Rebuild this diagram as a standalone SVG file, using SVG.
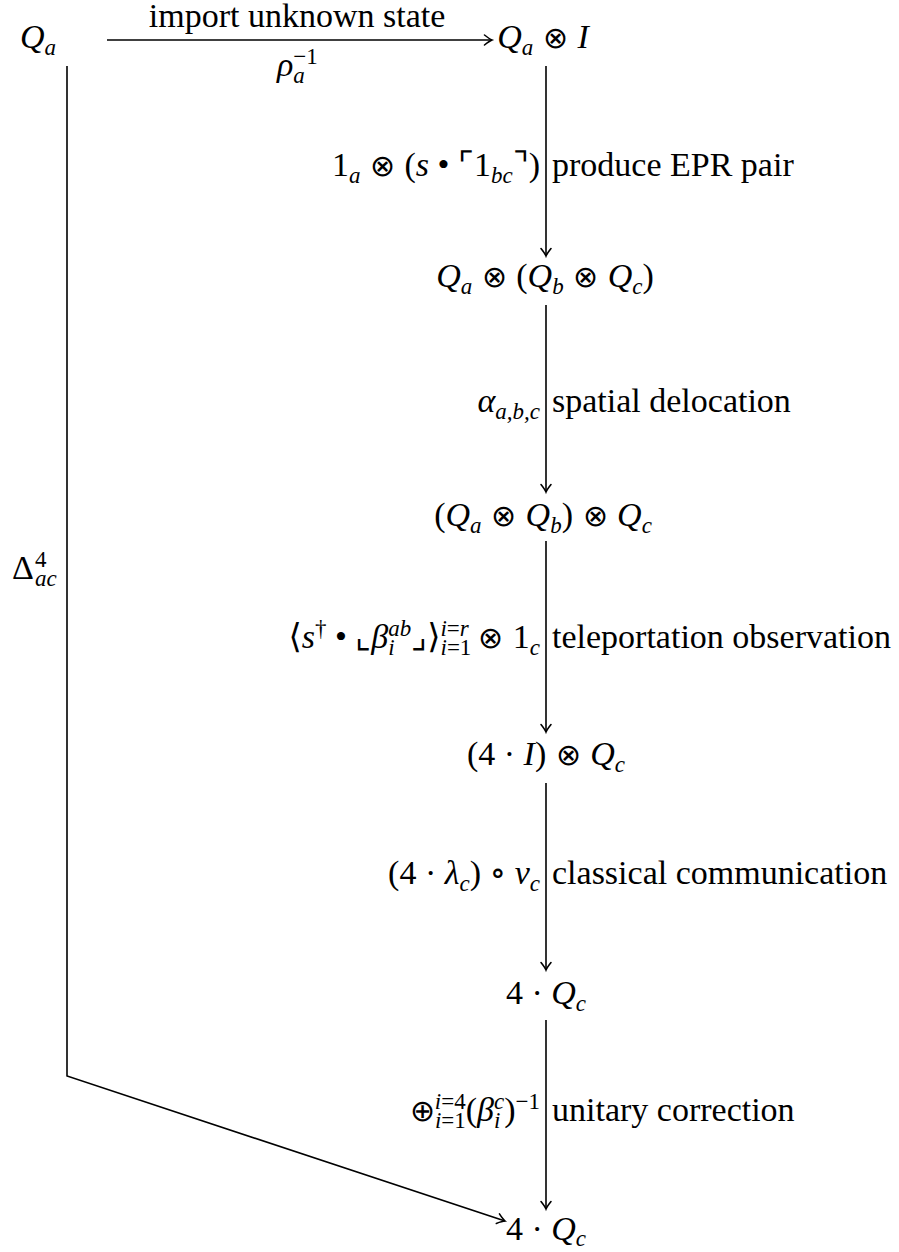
<svg xmlns="http://www.w3.org/2000/svg" width="899" height="1252" viewBox="0 0 899 1252">
<style>
text{font-family:"Liberation Serif","DejaVu Serif",serif;font-size:34px;fill:#000;white-space:pre}
.i{font-style:italic}
.s{font-size:23px}
.o{font-family:"DejaVu Sans",sans-serif;font-weight:200;font-size:30px}
.c{stroke:#000;stroke-width:1.6;fill:none}
</style>
<defs>
<marker id="ah" markerUnits="userSpaceOnUse" markerWidth="18" markerHeight="18" viewBox="-9 -9 18 18" refX="0" refY="0" orient="auto">
<path d="M-7.5,-5 Q-2.5,-1 0,0 Q-2.5,1 -7.5,5" fill="none" stroke="#000" stroke-width="1.6" stroke-linecap="round"/>
</marker>
</defs>
<rect width="899" height="1252" fill="#fff"/>
<g id="connectors">
<line class="c" x1="107" y1="40" x2="492" y2="40" marker-end="url(#ah)"/>
<line class="c" x1="546" y1="66" x2="546" y2="256" marker-end="url(#ah)"/>
<line class="c" x1="546" y1="305" x2="546" y2="492" marker-end="url(#ah)"/>
<line class="c" x1="546" y1="541" x2="546" y2="732" marker-end="url(#ah)"/>
<line class="c" x1="546" y1="783" x2="546" y2="970" marker-end="url(#ah)"/>
<line class="c" x1="546" y1="1020" x2="546" y2="1209" marker-end="url(#ah)"/>
<polyline class="c" points="67,66 67,1076 505,1221" marker-end="url(#ah)"/>
</g>
<g id="edge-labels">
<text x="297" y="27" text-anchor="middle">import unknown state</text>
<text x="277" y="76"><tspan class="i">ρ</tspan><tspan class="s i" dy="7">a</tspan><tspan class="s" dx="-11.5" dy="-19">−1</tspan></text>
<text x="540" y="176" text-anchor="end">1<tspan class="s i" dy="7">a</tspan><tspan class="o" dy="-7"> ⊗ </tspan>(<tspan class="i">s</tspan> • ⌜1<tspan class="s i" dy="7">bc</tspan><tspan dy="-7">⌝)</tspan></text>
<text x="552" y="176">produce EPR pair</text>
<text x="540" y="412" text-anchor="end"><tspan class="i">α</tspan><tspan class="s i" dy="7">a,b,c</tspan></text>
<text x="552" y="412">spatial delocation</text>
<text x="540" y="648" text-anchor="end">⟨<tspan class="i">s</tspan><tspan class="s" dy="-12">†</tspan><tspan dy="12"> • ⌞</tspan><tspan class="i">β</tspan><tspan class="s i" dy="7">i</tspan><tspan class="s i" dx="-6.4" dy="-19">ab</tspan><tspan dy="12">⌟⟩</tspan><tspan class="s i" dy="7">i</tspan><tspan class="s">=1</tspan><tspan class="s i" dx="-31" dy="-19">i</tspan><tspan class="s">=</tspan><tspan class="s i">r</tspan><tspan class="o" dy="12"> ⊗ </tspan>1<tspan class="s i" dy="7">c</tspan></text>
<text x="552" y="648">teleportation observation</text>
<text x="540" y="884" text-anchor="end">(4 · <tspan class="i">λ</tspan><tspan class="s i" dy="7">c</tspan><tspan dy="-7">) ∘ </tspan><tspan class="i">v</tspan><tspan class="s i" dy="7">c</tspan></text>
<text x="552" y="884">classical communication</text>
<text x="540" y="1121" text-anchor="end"><tspan class="o">⊕</tspan><tspan class="s i" dy="7">i</tspan><tspan class="s">=1</tspan><tspan class="s i" dx="-31" dy="-19">i</tspan><tspan class="s">=4</tspan><tspan dy="12">(</tspan><tspan class="i">β</tspan><tspan class="s i" dy="7">i</tspan><tspan class="s i" dx="-6.4" dy="-19">c</tspan><tspan dy="12">)</tspan><tspan class="s" dy="-12">−1</tspan></text>
<text x="552" y="1121">unitary correction</text>
<text x="12" y="579">Δ<tspan class="s" dx="1" dy="-12">4</tspan><tspan class="s i" dx="-11.5" dy="19">ac</tspan></text>
</g>
<g id="n0"><text x="20" y="48"><tspan class="i">Q</tspan><tspan class="s i" dy="7">a</tspan></text></g>
<g id="n1"><text x="543" y="48" text-anchor="middle"><tspan class="i">Q</tspan><tspan class="s i" dy="7">a</tspan><tspan class="o" dy="-7"> ⊗ </tspan><tspan class="i">I</tspan></text></g>
<g id="n2"><text x="545" y="287" text-anchor="middle"><tspan class="i">Q</tspan><tspan class="s i" dy="7">a</tspan><tspan class="o" dy="-7"> ⊗ </tspan>(<tspan class="i">Q</tspan><tspan class="s i" dy="7">b</tspan><tspan class="o" dy="-7"> ⊗ </tspan><tspan class="i">Q</tspan><tspan class="s i" dy="7">c</tspan><tspan dy="-7">)</tspan></text></g>
<g id="n3"><text x="543" y="526" text-anchor="middle">(<tspan class="i">Q</tspan><tspan class="s i" dy="7">a</tspan><tspan class="o" dy="-7"> ⊗ </tspan><tspan class="i">Q</tspan><tspan class="s i" dy="7">b</tspan><tspan dy="-7">)</tspan><tspan class="o"> ⊗ </tspan><tspan class="i">Q</tspan><tspan class="s i" dy="7">c</tspan></text></g>
<g id="n4"><text x="546" y="765" text-anchor="middle">(4 · <tspan class="i">I</tspan>)<tspan class="o"> ⊗ </tspan><tspan class="i">Q</tspan><tspan class="s i" dy="7">c</tspan></text></g>
<g id="n5"><text x="546" y="1004" text-anchor="middle">4 · <tspan class="i">Q</tspan><tspan class="s i" dy="7">c</tspan></text></g>
<g id="n6"><text x="546" y="1240" text-anchor="middle">4 · <tspan class="i">Q</tspan><tspan class="s i" dy="6">c</tspan></text></g>
</svg>
